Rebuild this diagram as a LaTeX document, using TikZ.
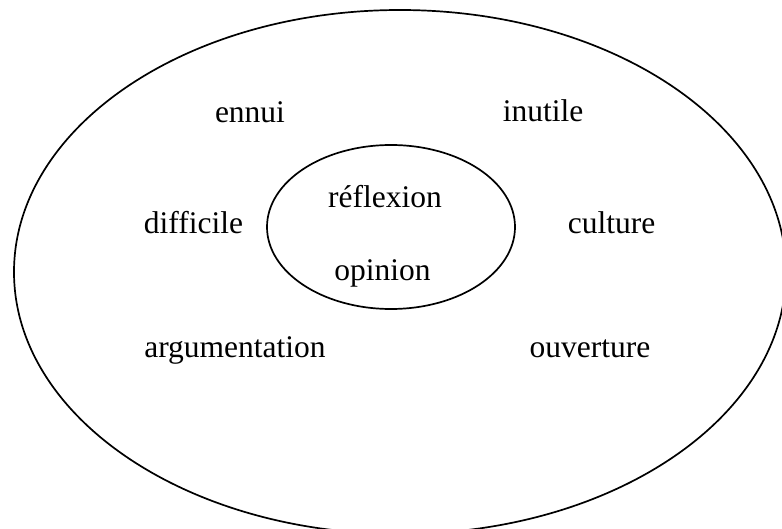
\documentclass[tikz,border=0pt]{standalone}
\usepackage{fontspec}
\setmainfont{Liberation Serif}
\begin{document}
\begin{tikzpicture}[x=1pt,y=-1pt,
  word/.style={anchor=base,inner sep=0pt,font=\fontsize{31.5}{36}\selectfont},
  ring/.style={draw=black,line width=1.7pt}]
\useasboundingbox (0,0) rectangle (782,529);
\clip (0,0) rectangle (782,529);
\draw[ring] (400,272) ellipse [x radius=386, y radius=262];
\draw[ring] (391,227) ellipse [x radius=124, y radius=82];
\node[word] (ennui) at (250,123) {ennui};
\node[word] (inutile) at (543,122) {inutile};
\node[word] (difficile) at (193.5,234) {difficile};
\node[word] (culture) at (611.5,234) {culture};
\node[word] (reflexion) at (385,208) {réflexion};
\node[word] (opinion) at (382.5,281) {opinion};
\node[word] (argumentation) at (235,358) {argumentation};
\node[word] (ouverture) at (590,358) {ouverture};
\end{tikzpicture}
\end{document}
